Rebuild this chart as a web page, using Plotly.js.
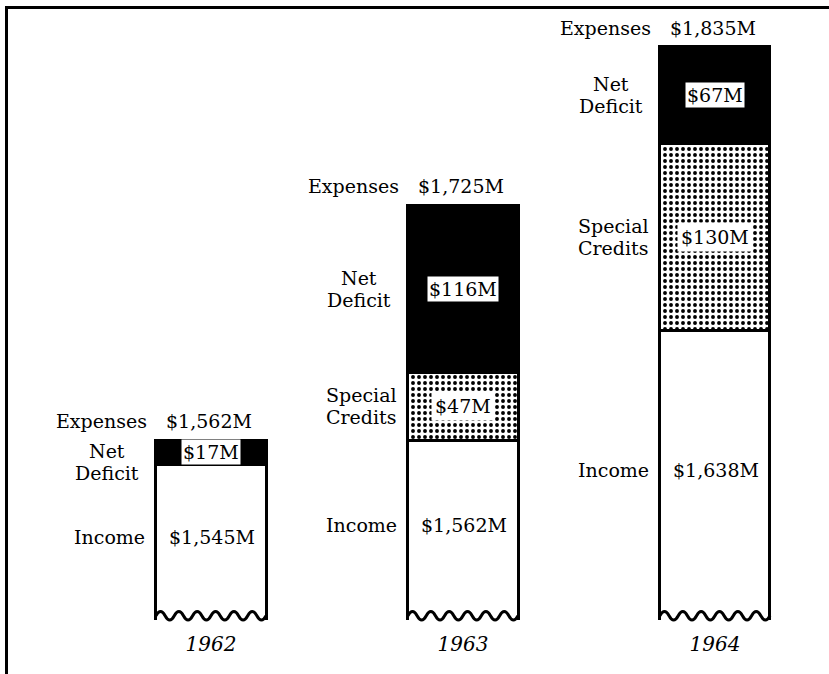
<!DOCTYPE html>
<html>
<head>
<meta charset="utf-8">
<script src="https://cdn.plot.ly/plotly-3.0.1.min.js"></script>
<style>
  html, body { margin: 0; padding: 0; background: #fff; }
  #wrap { position: relative; width: 829px; height: 674px; overflow: hidden; }
  #chart { width: 829px; height: 674px; }
  #frame { position: absolute; left: 5px; top: 6px; width: 900px; height: 900px;
           border-left: 3px solid #000; border-top: 3px solid #000; pointer-events: none; }
</style>
</head>
<body>
<div id="wrap">
  <div id="chart"></div>
  <div id="frame"></div>
</div>
<script>
// ---- data (millions of dollars) ----
const years = [1962, 1963, 1964];
const income = [1545, 1562, 1638];
const specialCredits = [0, 47, 130];
const netDeficit = [17, 116, 67];
const expenses = [1562, 1725, 1835];

const FONT = 'DejaVu Serif, Liberation Serif, serif';
const fs = 19;
const yRange = [1437, 1862];
const plotH = 612;
const pxPerUnit = plotH / (yRange[1] - yRange[0]);
const barWidth = 0.437;

function money(v) { return '$' + v.toLocaleString('en-US') + 'M'; }

const traces = [
  { type: 'bar', name: 'Income', x: years, y: income, width: barWidth, hoverinfo: 'skip',
    marker: { color: '#fff', line: { color: '#000', width: 3 } } },
  { type: 'bar', name: 'Special Credits', x: years, y: specialCredits, width: barWidth, hoverinfo: 'skip',
    marker: { color: '#fff', line: { color: '#000', width: 3 },
      pattern: { shape: '.', fgcolor: '#000', bgcolor: '#fff', size: 6, solidity: 0.33, fillmode: 'replace' } } },
  { type: 'bar', name: 'Net Deficit', x: years, y: netDeficit, width: barWidth, hoverinfo: 'skip',
    marker: { color: '#000', line: { color: '#000', width: 3 } } }
];

const ann = [];
function add(x, y, text, opts) {
  ann.push(Object.assign({ x: x, y: y, xref: 'x', yref: 'y', text: text, showarrow: false,
    font: { family: FONT, size: fs, color: '#000' },
    xanchor: 'center', yanchor: 'middle' }, opts || {}));
}
function addLines(x, y, lines, opts) {
  const gap = 22;
  lines.forEach((ln, k) => {
    const off = (lines.length - 1) / 2 * gap - k * gap;
    add(x, y, ln, Object.assign({}, opts, { yshift: (opts.yshift || 0) + off }));
  });
}

years.forEach((yr, i) => {
  // Expenses label on top
  add(yr, expenses[i], 'Expenses', { xanchor: 'right', xshift: -62, yshift: 19 });
  add(yr, expenses[i], money(expenses[i]), { xshift: -2, yshift: 19 });
  // Net deficit
  const dMid = income[i] + specialCredits[i] + netDeficit[i] / 2;
  const segPx = netDeficit[i] * pxPerUnit;
  const lblShift = segPx < 44 ? -(44 - segPx) / 2 : 0;
  addLines(yr, dMid, ['Net', 'Deficit'], { xshift: -104, yshift: lblShift });
  add(yr, dMid, money(netDeficit[i]), { bgcolor: '#fff', borderpad: 1 });
  // Special credits
  if (specialCredits[i] > 0) {
    const cMid = income[i] + specialCredits[i] / 2;
    addLines(yr, cMid, ['Special', 'Credits'], { xshift: -101 });
    add(yr, cMid, money(specialCredits[i]), { bgcolor: '#fff', borderpad: 3 });
  }
  // Income (visible part of the broken bar)
  const iMid = (yRange[0] + income[i]) / 2;
  add(yr, iMid, 'Income', { xshift: -101, yshift: 5 });
  add(yr, iMid, money(income[i]), { xshift: 1, yshift: 5 });
});

// wavy "broken" bottom edge of each bar
const shapes = years.map(yr => {
  const x0 = yr - barWidth / 2, x1 = yr + barWidth / 2;
  const n = 12, step = (x1 - x0) / n;
  const base = 0.007, amp = 0.014;
  let d = 'M' + x0 + ',' + base;
  for (let k = 0; k < n; k++) {
    const cx = x0 + step * (k + 0.5);
    const cy = base + (k % 2 === 0 ? amp : -amp);
    d += ' Q' + cx + ',' + cy + ' ' + (x0 + step * (k + 1)) + ',' + base;
  }
  return { type: 'path', xref: 'x', yref: 'paper', path: d,
    line: { color: '#000', width: 3 }, layer: 'above' };
});

const layout = {
  width: 829, height: 674,
  margin: { l: 20, r: 9, t: 8, b: 54 },
  paper_bgcolor: '#fff', plot_bgcolor: '#fff',
  barmode: 'stack', showlegend: false,
  xaxis: { range: [1961.242, 1964.417], tickvals: years,
    ticktext: years.map(y => '<i>' + y + '</i>'),
    tickfont: { family: FONT, size: 20, color: '#000' },
    ticklabelstandoff: 10,
    showgrid: false, zeroline: false, showline: false, ticks: '', fixedrange: true },
  yaxis: { range: yRange, visible: false, showgrid: false, zeroline: false, fixedrange: true },
  annotations: ann,
  shapes: shapes
};

Plotly.newPlot('chart', traces, layout, { staticPlot: true, displayModeBar: false });
</script>
</body>
</html>
